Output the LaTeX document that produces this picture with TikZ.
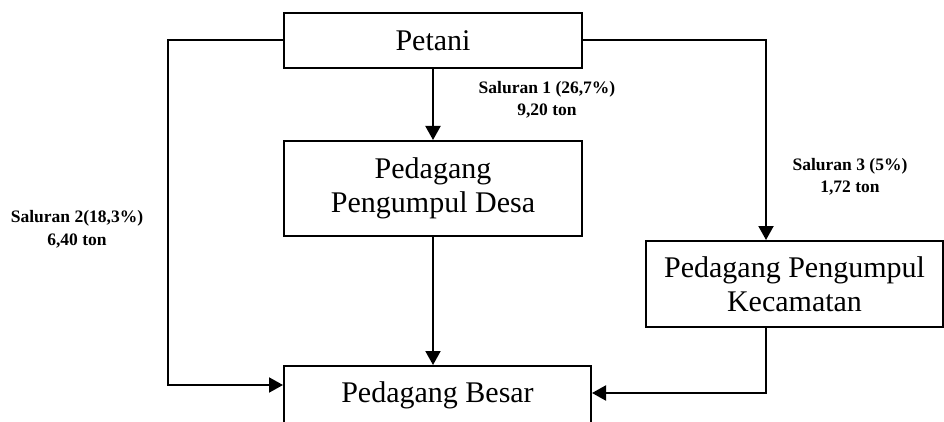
\documentclass[tikz,border=0pt]{standalone}
\usepackage{fontspec}
\setmainfont{Liberation Serif}
\usetikzlibrary{arrows.meta}
\begin{document}
\begin{tikzpicture}[x=1pt,y=-1pt,
  box/.style={draw=black,line width=2pt,inner sep=0pt,align=center,font=\fontsize{30}{34}\selectfont},
  lbl/.style={align=center,font=\bfseries\fontsize{17.5}{22.5}\selectfont},
  arr/.style={line width=2pt,-{Triangle[length=14pt,width=15pt]}}]
\useasboundingbox (0,0) rectangle (944,422);
\begin{scope}
\clip (0,0) rectangle (944,422);
\node[box,minimum width=298pt,minimum height=55pt] (petani) at (433,40.5) {Petani};
\node[box,minimum width=298pt,minimum height=95pt] (desa) at (433,188.5) {Pedagang\\Pengumpul Desa};
\node[box,minimum width=297pt,minimum height=86pt] (kec) at (794.5,284) {Pedagang Pengumpul\\Kecamatan};
\node[box,minimum width=307pt,minimum height=58pt] (besar) at (437.5,395) {Pedagang Besar};

\node[lbl] (s1) at (547,100) {Saluran 1 (26,7\%)\\9,20 ton};
\node[lbl] (s2) at (77,229.5) {Saluran 2(18,3\%)\\6,40 ton};
\node[lbl] (s3) at (850,177) {Saluran 3 (5\%)\\1,72 ton};

\coordinate (lx) at (168,40.5);
\coordinate (rx) at (766,40.5);
\coordinate (bw) at ([yshift=10pt]besar.west);
\coordinate (be) at ([yshift=2pt]besar.east);

\draw[arr] (petani.south) -- (desa.north);
\draw[arr] (desa.south) -- (desa.south |- besar.north);
\draw[arr] (petani.west) -- (lx) |- (bw);
\draw[arr] (petani.east) -- (rx) -- (rx |- kec.north);
\draw[arr] (rx |- kec.south) |- (be);
\end{scope}
\end{tikzpicture}
\end{document}
